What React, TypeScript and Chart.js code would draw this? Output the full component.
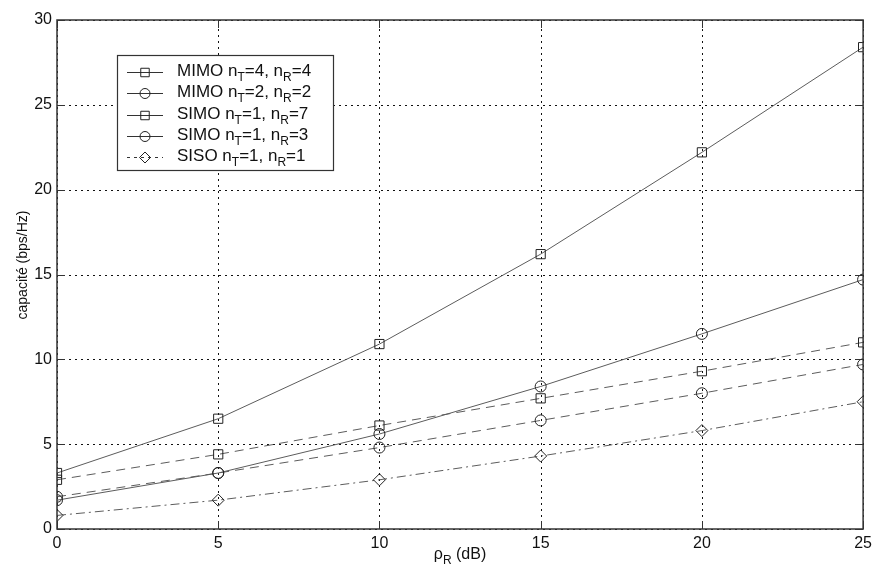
import React, { useEffect, useRef } from 'react';
import { Chart, registerables } from 'chart.js';

Chart.register(...registerables);

// ---- data ----
const snrDb = [0, 5, 10, 15, 20, 25];
const mimo44 = [3.3, 6.5, 10.9, 16.2, 22.2, 28.4];
const mimo22 = [1.7, 3.3, 5.6, 8.4, 11.5, 14.7];
const simo17 = [2.9, 4.4, 6.1, 7.7, 9.3, 11.0];
const simo13 = [1.9, 3.3, 4.8, 6.4, 8.0, 9.7];
const siso11 = [0.8, 1.7, 2.9, 4.3, 5.8, 7.5];
const xTicks = [0, 5, 10, 15, 20, 25];
const yTicks = [0, 5, 10, 15, 20, 25, 30];
const legendNames = ['MIMO', 'MIMO', 'SIMO', 'SIMO', 'SISO'];
const legendNT = ['4', '2', '1', '1', '1'];
const legendNR = ['4', '2', '7', '3', '1'];
const yTitle = 'capacité (bps/Hz)';
const xTitleMain = 'ρ';
const xTitleSub = 'R';
const xTitleRest = ' (dB)';

const FONT = '"Liberation Sans", Arial, sans-serif';
const LINE = '#5c5c5c';
const MARK = '#222';
const styles = [
  { dash: [] as number[], point: 'rect', radius: 6.5, legDash: [] as number[] },
  { dash: [] as number[], point: 'circle', radius: 5.5, legDash: [] as number[] },
  { dash: [9, 6], point: 'rect', radius: 6.5, legDash: [] as number[] },
  { dash: [9, 6], point: 'circle', radius: 5.5, legDash: [] as number[] },
  { dash: [9, 4, 2, 4], point: 'rectRot', radius: 6, legDash: [3, 4] },
];
const series = [mimo44, mimo22, simo17, simo13, siso11];

function drawMarker(ctx: CanvasRenderingContext2D, style: string, x: number, y: number, r: number) {
  ctx.beginPath();
  if (style === 'rect') {
    const s = Math.SQRT1_2 * r;
    ctx.rect(x - s, y - s, 2 * s, 2 * s);
  } else if (style === 'circle') {
    ctx.arc(x, y, r, 0, Math.PI * 2);
  } else {
    ctx.moveTo(x, y - r);
    ctx.lineTo(x + r, y);
    ctx.lineTo(x, y + r);
    ctx.lineTo(x - r, y);
    ctx.closePath();
  }
  ctx.stroke();
}

const matlabPlugin = {
  id: 'matlabDecor',
  beforeDatasetsDraw(chart: any) {
    const { ctx, chartArea: a, scales } = chart;
    const x = scales.x;
    const y = scales.y;
    ctx.save();
    ctx.strokeStyle = '#111';
    ctx.lineWidth = 1;
    ctx.setLineDash([2, 4]);
    xTicks.forEach((v) => {
      const px = Math.round(x.getPixelForValue(v)) + 0.5;
      ctx.beginPath();
      ctx.moveTo(px, a.bottom);
      ctx.lineTo(px, a.top);
      ctx.stroke();
    });
    yTicks.forEach((v) => {
      const py = Math.round(y.getPixelForValue(v)) + 0.5;
      ctx.beginPath();
      ctx.moveTo(a.left, py);
      ctx.lineTo(a.right, py);
      ctx.stroke();
    });
    ctx.restore();
  },
  afterDatasetsDraw(chart: any) {
    const { ctx, chartArea: a, scales } = chart;
    const x = scales.x;
    const y = scales.y;
    ctx.save();
    // axes box
    ctx.setLineDash([]);
    ctx.strokeStyle = '#333';
    ctx.lineWidth = 1.5;
    ctx.strokeRect(a.left, a.top, a.right - a.left, a.bottom - a.top);
    // inward ticks
    const tl = 8;
    ctx.lineWidth = 1;
    xTicks.forEach((v) => {
      const px = Math.round(x.getPixelForValue(v)) + 0.5;
      ctx.beginPath();
      ctx.moveTo(px, a.bottom);
      ctx.lineTo(px, a.bottom - tl);
      ctx.moveTo(px, a.top);
      ctx.lineTo(px, a.top + tl);
      ctx.stroke();
    });
    yTicks.forEach((v) => {
      const py = Math.round(y.getPixelForValue(v)) + 0.5;
      ctx.beginPath();
      ctx.moveTo(a.left, py);
      ctx.lineTo(a.left + tl, py);
      ctx.moveTo(a.right, py);
      ctx.lineTo(a.right - tl, py);
      ctx.stroke();
    });

    // legend
    const bx = 117, by = 55, bw = 216, bh = 115;
    ctx.fillStyle = '#fff';
    ctx.fillRect(bx, by, bw, bh);
    ctx.strokeStyle = '#333';
    ctx.lineWidth = 1.2;
    ctx.strokeRect(bx + 0.5, by + 0.5, bw, bh);
    for (let i = 0; i < legendNames.length; i++) {
      const ly = Math.round(72 + i * 21.3) + 0.5;
      const st = styles[i];
      ctx.strokeStyle = '#333';
      ctx.lineWidth = 1;
      ctx.setLineDash(st.legDash);
      ctx.beginPath();
      ctx.moveTo(127, ly);
      ctx.lineTo(163, ly);
      ctx.stroke();
      ctx.setLineDash([]);
      ctx.strokeStyle = MARK;
      drawMarker(ctx, st.point, 145, ly, st.radius - 0.5);
      // text with subscripts
      const base = ly + 3;
      let tx = 177;
      ctx.fillStyle = '#111';
      ctx.textBaseline = 'alphabetic';
      ctx.textAlign = 'left';
      const parts: [string, boolean][] = [
        [legendNames[i] + ' n', false],
        ['T', true],
        ['=' + legendNT[i] + ', n', false],
        ['R', true],
        ['=' + legendNR[i], false],
      ];
      parts.forEach(([t, sub]) => {
        ctx.font = sub ? `12px ${FONT}` : `17px ${FONT}`;
        ctx.fillText(t, tx, sub ? base + 5 : base);
        tx += ctx.measureText(t).width;
      });
    }

    // x title
    ctx.fillStyle = '#111';
    ctx.font = `16px ${FONT}`;
    const w1 = ctx.measureText(xTitleMain).width;
    const w3 = ctx.measureText(xTitleRest).width;
    ctx.font = `12px ${FONT}`;
    const w2 = ctx.measureText(xTitleSub).width;
    const cx = (a.left + a.right) / 2;
    let sx = cx - (w1 + w2 + w3) / 2;
    const xb = 559;
    ctx.font = `16px ${FONT}`;
    ctx.fillText(xTitleMain, sx, xb);
    sx += w1;
    ctx.font = `12px ${FONT}`;
    ctx.fillText(xTitleSub, sx, xb + 5);
    sx += w2;
    ctx.font = `16px ${FONT}`;
    ctx.fillText(xTitleRest, sx, xb);

    // y title
    ctx.save();
    ctx.translate(27, 265);
    ctx.rotate(-Math.PI / 2);
    ctx.font = `14px ${FONT}`;
    ctx.textAlign = 'center';
    ctx.textBaseline = 'alphabetic';
    ctx.fillText(yTitle, 0, 0);
    ctx.restore();

    ctx.restore();
  },
};

export default function App() {
  const ref = useRef<HTMLCanvasElement | null>(null);
  useEffect(() => {
    if (!ref.current) return;
    const chart = new Chart(ref.current, {
      type: 'line',
      data: {
        datasets: series.map((s, i) => ({
          label: legendNames[i],
          data: s.map((v, j) => ({ x: snrDb[j], y: v })),
          borderColor: LINE,
          borderWidth: 1,
          borderDash: styles[i].dash,
          pointStyle: styles[i].point as any,
          pointRadius: styles[i].radius,
          pointBorderColor: MARK,
          pointBorderWidth: 1,
          pointBackgroundColor: 'rgba(0,0,0,0)',
          fill: false,
          tension: 0,
        })),
      },
      options: {
        animation: false,
        responsive: false,
        devicePixelRatio: 1,
        layout: { padding: { top: 20, right: 9, left: 0, bottom: 0 } },
        plugins: { legend: { display: false }, tooltip: { enabled: false } },
        scales: {
          x: {
            type: 'linear',
            min: 0,
            max: 25,
            afterBuildTicks: (sc: any) => { sc.ticks = xTicks.map((v) => ({ value: v })); },
            afterFit: (sc: any) => { sc.height = 40; },
            grid: { display: false, drawTicks: false },
            border: { display: false },
            ticks: { font: { family: FONT, size: 16 }, color: '#111', padding: 5, maxRotation: 0 },
          },
          y: {
            type: 'linear',
            min: 0,
            max: 30,
            afterBuildTicks: (sc: any) => { sc.ticks = yTicks.map((v) => ({ value: v })); },
            afterFit: (sc: any) => { sc.width = 57; },
            grid: { display: false, drawTicks: false },
            border: { display: false },
            ticks: { font: { family: FONT, size: 16 }, color: '#111', padding: 5 },
          },
        },
      },
      plugins: [matlabPlugin],
    });
    return () => chart.destroy();
  }, []);
  return (
    <div style={{ position: 'absolute', left: 0, top: 0, width: 877, height: 569, background: '#fff' }}>
      <canvas ref={ref} width={877} height={569} style={{ width: 877, height: 569, display: 'block' }} />
    </div>
  );
}
